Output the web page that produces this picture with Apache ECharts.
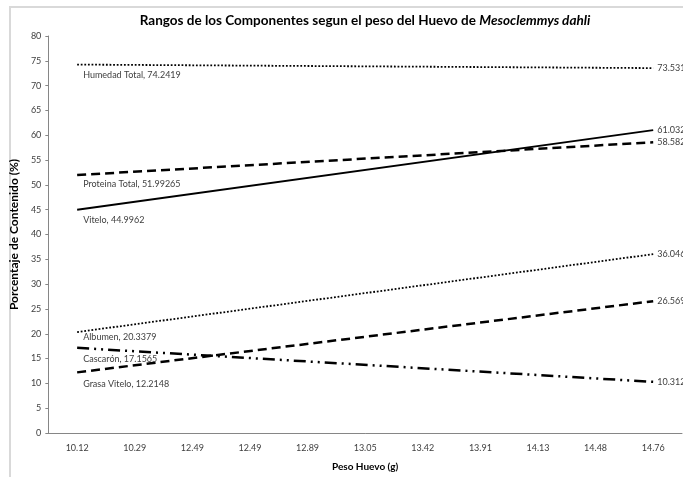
<!DOCTYPE html>
<html>
<head>
<meta charset="utf-8">
<script src="https://cdn.jsdelivr.net/npm/echarts@6/dist/echarts.min.js"></script>
<style>
  html, body { margin: 0; padding: 0; background: #fff; }
  #main { width: 683px; height: 477px; }
</style>
</head>
<body>
<div id="main"></div>
<script>
// pesos del huevo (eje x, categorias)
var pesos = ['10.12', '10.29', '12.49', '12.49', '12.89', '13.05', '13.42', '13.91', '14.13', '14.48', '14.76'];

// rectas de tendencia: valor inicial y final (los intermedios vacios)
var humedad = [74.2419, null, null, null, null, null, null, null, null, null, 73.531];
var proteina = [51.99265, null, null, null, null, null, null, null, null, null, 58.582];
var vitelo = [44.9962, null, null, null, null, null, null, null, null, null, 61.032];
var albumen = [20.3379, null, null, null, null, null, null, null, null, null, 36.046];
var cascaron = [17.1565, null, null, null, null, null, null, null, null, null, 10.312];
var grasa = [12.2148, null, null, null, null, null, null, null, null, null, 26.569];

var font = 'Lato';
var labelColor = '#404040';

// arma la serie con etiqueta al inicio y valor al final
function linea(nombre, datos, dash, width, dy) {
    var last = datos.length - 1;
    var data = datos.map(function (v, i) {
        if (i === 0) {
            return {
                value: v,
                label: {
                    show: true, position: [7, dy],
                    formatter: nombre + ', ' + v
                }
            };
        }
        if (i === last) {
            return {
                value: v,
                label: { show: true, position: 'right', distance: 3, formatter: String(v) }
            };
        }
        return v;
    });
    return {
        name: nombre,
        type: 'line',
        data: data,
        connectNulls: true,
        symbol: 'circle',
        symbolSize: 2,
        itemStyle: { color: 'transparent' },
        lineStyle: { color: '#000', width: width, type: dash, cap: 'butt' },
        label: { color: labelColor, fontFamily: font, fontSize: 9 },
        emphasis: { disabled: true },
        silent: true,
        animation: false
    };
}

var myChart = echarts.init(document.getElementById('main'));
myChart.setOption({
    animation: false,
    title: {
        text: '{n|Rangos de los Componentes segun el peso del Huevo de }{i|Mesoclemmys dahli}',
        left: 360, top: 9, textAlign: 'center',
        textStyle: {
            rich: {
                n: { fontFamily: font, fontSize: 13.5, fontWeight: 'bold', color: '#000' },
                i: { fontFamily: font, fontSize: 13.5, fontWeight: 'bold', fontStyle: 'italic', color: '#000' }
            }
        }
    },
    graphic: [{
        type: 'rect',
        shape: { x: 10, y: 7, width: 700, height: 500 },
        style: { fill: 'none', stroke: '#d9d9d9', lineWidth: 2 },
        silent: true, z: -1
    }],
    grid: { left: 47, right: 1, top: 36, bottom: 40 },
    xAxis: {
        type: 'category',
        data: pesos,
        boundaryGap: true,
        name: 'Peso Huevo (g)',
        nameLocation: 'middle',
        nameGap: 29,
        nameTextStyle: { fontFamily: font, fontSize: 10, fontWeight: 'bold', color: '#000' },
        axisLine: { lineStyle: { color: '#868686' } },
        axisTick: { alignWithLabel: true, inside: true, length: 3, lineStyle: { color: '#868686' } },
        axisLabel: { color: labelColor, fontFamily: font, fontSize: 9, margin: 11 }
    },
    yAxis: {
        type: 'value',
        min: 0, max: 80, interval: 5,
        name: 'Porcentaje de Contenido (%)',
        nameLocation: 'middle',
        nameGap: 27,
        nameTextStyle: { fontFamily: font, fontSize: 12, fontWeight: 'bold', color: '#000' },
        splitLine: { show: false },
        axisLine: { show: true, lineStyle: { color: '#868686' } },
        axisTick: { show: true, length: 3, lineStyle: { color: '#868686' } },
        axisLabel: { color: labelColor, fontFamily: font, fontSize: 9, margin: 7 }
    },
    series: [
        linea('Humedad Total', humedad, [1.8, 1.8], 1.8, 7),
        linea('Proteina Total', proteina, [9, 5], 2.5, 6),
        linea('Vitelo', vitelo, 'solid', 2, 7),
        linea('Albumen', albumen, [1.8, 1.8], 1.8, 2),
        linea('Cascarón', cascaron, [12, 5, 2, 5, 2, 5], 2.5, 8),
        linea('Grasa Vitelo', grasa, [9, 5], 2.5, 8)
    ]
});
</script>
</body>
</html>
